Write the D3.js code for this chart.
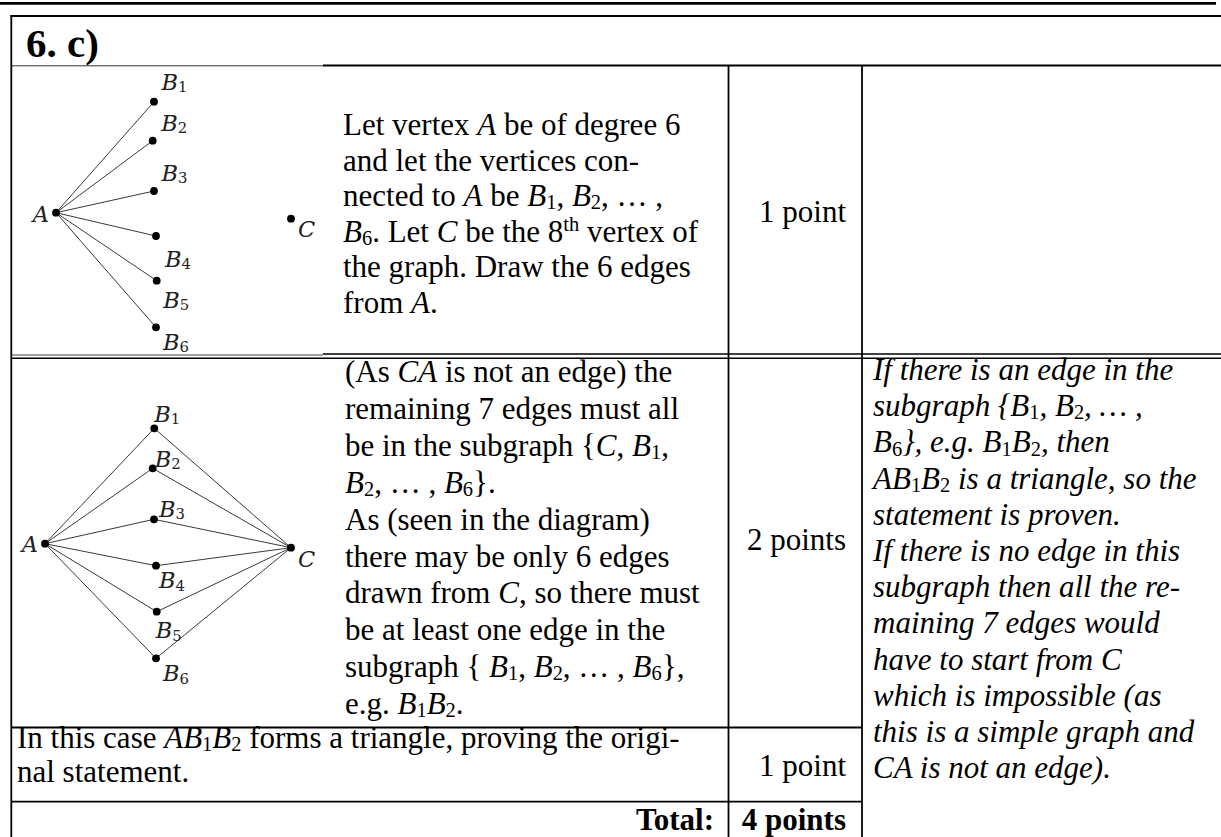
<!DOCTYPE html>
<html><head><meta charset="utf-8">
<script src="https://cdn.jsdelivr.net/npm/d3@7"></script>
<style>body{margin:0;background:#fff}</style>
</head><body>
<svg id="c" width="1221" height="837"></svg>
<script>
// ---------------- DATA ----------------
const title = "6. c)";
const row1Lines = [
  "Let vertex *A* be of degree 6",
  "and let the vertices con-",
  "nected to *A* be *B*_{1}, *B*_{2}, … ,",
  "*B*_{6}. Let *C* be the 8^{th} vertex of",
  "the graph. Draw the 6 edges",
  "from *A*."
];
const row2Lines = [
  "(As *CA* is not an edge) the",
  "remaining 7 edges must all",
  "be in the subgraph {*C*, *B*_{1},",
  "*B*_{2}, … , *B*_{6}}.",
  "As (seen in the diagram)",
  "there may be only 6 edges",
  "drawn from *C*, so there must",
  "be at least one edge in the",
  "subgraph { *B*_{1}, *B*_{2}, … , *B*_{6}},",
  "e.g. *B*_{1}*B*_{2}."
];
const row3Lines = [
  "In this case *AB*_{1}*B*_{2} forms a triangle, proving the origi-",
  "nal statement."
];
const commentLines = [
  "If there is an edge in the",
  "subgraph {B_{1}, B_{2}, … ,",
  "B_{6}}, e.g. B_{1}B_{2}, then",
  "AB_{1}B_{2} is a triangle, so the",
  "statement is proven.",
  "If there is no edge in this",
  "subgraph then all the re-",
  "maining 7 edges would",
  "have to start from C",
  "which is impossible (as",
  "this is a simple graph and",
  "CA is not an edge)."
];
const pointLabels = ["1 point", "2 points", "1 point"];
const totalLabel = "Total:";
const totalPoints = "4 points";

// Graph 1 (first diagram): vertex coordinates in diagram units, A at origin
const graph1Vertices = [
  {id: "A",  x: 0,     y: 0},
  {id: "B1", x: 9.8,   y: -11.1},
  {id: "B2", x: 9.67,  y: -7.2},
  {id: "B3", x: 9.8,   y: -2.17},
  {id: "B4", x: 10.0,  y: 2.33},
  {id: "B5", x: 10.07, y: 6.8},
  {id: "B6", x: 10.0,  y: 11.46},
  {id: "C",  x: 23.5,  y: 0.6}
];
const graph1Edges = [["A","B1"],["A","B2"],["A","B3"],["A","B4"],["A","B5"],["A","B6"]];

// Graph 2 (second diagram)
const graph2Vertices = [
  {id: "A",  x: 0,     y: 0},
  {id: "B1", x: 10.93, y: -11.54},
  {id: "B2", x: 10.77, y: -7.54},
  {id: "B3", x: 10.9,  y: -2.44},
  {id: "B4", x: 11.1,  y: 2.2},
  {id: "B5", x: 11.17, y: 6.8},
  {id: "B6", x: 11.1,  y: 11.46},
  {id: "C",  x: 24.6,  y: 0.4}
];
const graph2Edges = [["A","B1"],["A","B2"],["A","B3"],["A","B4"],["A","B5"],["A","B6"],
                     ["C","B1"],["C","B2"],["C","B3"],["C","B4"],["C","B5"],["C","B6"]];

// ---------------- LAYOUT ----------------
const svg = d3.select("#c");
const FONT = "'Liberation Serif','Times New Roman',serif";
const FS = 31;

// label offsets (px) relative to the vertex dot: [dx, dy, anchor]
const label1Pos = {A:[-7,9,"end"],B1:[7.5,-11.5,"start"],B2:[8.5,-10,"start"],B3:[7.5,-10,"start"],
  B4:[9,31,"start"],B5:[6.5,27.5,"start"],B6:[7,22.5,"start"],C:[7,18,"start"]};
const label2Pos = {A:[-7,8,"end"],B1:[0,-6.6,"start"],B2:[2,-1.6,"start"],B3:[5,-2.6,"start"],
  B4:[3,22.6,"start"],B5:[-1,26.6,"start"],B6:[7,23,"start"],C:[7,19,"start"]};

function richText(parent, str, x, y, opt = {}) {
  const fs = opt.size || FS;
  const t = parent.append("text").attr("x", x).attr("y", y)
    .attr("font-family", opt.family || FONT).attr("font-size", fs)
    .attr("fill", opt.fill || "#000")
    .attr("text-anchor", opt.anchor || "start")
    .attr("font-weight", opt.weight || "normal");
  const parts = str.split(/(\*|_\{[^}]*\}|\^\{[^}]*\})/).filter(s => s !== "");
  let italic = !!opt.italic, shift = 0;
  const subShift = fs * 0.1, supShift = fs * 0.36;
  for (const p of parts) {
    if (p === "*") { italic = !italic; continue; }
    if (p.startsWith("_{")) {
      t.append("tspan").attr("dy", subShift - shift).attr("font-size", fs * 0.66)
        .attr("font-style", "normal").text(p.slice(2, -1));
      shift = subShift; continue;
    }
    if (p.startsWith("^{")) {
      t.append("tspan").attr("dy", -supShift - shift).attr("font-size", fs * 0.66)
        .attr("font-style", "normal").text(p.slice(2, -1));
      shift = -supShift; continue;
    }
    t.append("tspan").attr("dy", -shift).attr("font-style", italic ? "italic" : "normal").text(p);
    shift = 0;
  }
  return t;
}

// ---------------- RULES / TABLE ----------------
function hline(x1, x2, y, w, c = "#000") {
  svg.append("line").attr("x1", x1).attr("x2", x2).attr("y1", y).attr("y2", y)
    .attr("stroke", c).attr("stroke-width", w);
}
function vline(x, y1, y2, w, c = "#000") {
  svg.append("line").attr("x1", x).attr("x2", x).attr("y1", y1).attr("y2", y2)
    .attr("stroke", c).attr("stroke-width", w);
}
const L = 11.3, COL2 = 728.5, COL3 = 862, R = 1221;
const Y_TOP = 16, Y_HEAD = 65.5, Y_R1a = 354, Y_R1b = 358.3, Y_R2 = 727.5, Y_R3 = 801.7;

hline(0, 1216, 3.3, 2.8);            // top rule
hline(L - 1, R, Y_TOP, 1.8);          // table top
hline(323, R, Y_HEAD, 2);             // header bottom
hline(L, 323, Y_HEAD + 0.3, 1, "#333");
vline(L, Y_TOP - 0.9, 837, 1.8);      // left border
vline(COL2, Y_HEAD, 837, 1.8);
vline(COL3, Y_HEAD, 837, 1.8);
hline(323, R, Y_R1a, 1.6);            // double line between row 1 and row 2
hline(L, 323, Y_R1a + 1, 1, "#444");
hline(L, R, Y_R1b, 1.6);
hline(L, COL3, Y_R2, 2);
hline(L, COL3, Y_R3, 1.8);

// ---------------- TEXT ----------------
richText(svg, title, 26, 57, {size: 41, weight: "bold"});

row1Lines.forEach((s, i) => richText(svg, s, 343, 135 + i * 35.6));
row2Lines.forEach((s, i) => richText(svg, s, 345, 382 + i * 36.9));
row3Lines.forEach((s, i) => richText(svg, s, 17, 748 + i * 34));
commentLines.forEach((s, i) => richText(svg, s, 873, 380 + i * 36.2, {italic: true}));

const pointY = [222, 550, 776];
pointLabels.forEach((s, i) => richText(svg, s, 846, pointY[i], {anchor: "end"}));
richText(svg, totalLabel, 714, 830, {anchor: "end", weight: "bold"});
richText(svg, totalPoints, 846, 830, {anchor: "end", weight: "bold"});

// ---------------- DIAGRAMS ----------------
function drawGraph(vertices, edges, origin, labelPos) {
  const x = d3.scaleLinear().domain([0, 1]).range([origin[0], origin[0] + 10]);
  const y = d3.scaleLinear().domain([0, 1]).range([origin[1], origin[1] + 10]);
  const byId = new Map(vertices.map(v => [v.id, v]));
  const g = svg.append("g");
  g.selectAll("line.e").data(edges).join("line").attr("class", "e")
    .attr("x1", d => x(byId.get(d[0]).x)).attr("y1", d => y(byId.get(d[0]).y))
    .attr("x2", d => x(byId.get(d[1]).x)).attr("y2", d => y(byId.get(d[1]).y))
    .attr("stroke", "#3a3a3a").attr("stroke-width", 1);
  g.selectAll("circle").data(vertices).join("circle")
    .attr("cx", d => x(d.x)).attr("cy", d => y(d.y)).attr("r", 3.9).attr("fill", "#000");
  vertices.forEach(v => {
    const p = labelPos[v.id];
    const str = v.id.length > 1 ? "*" + v.id[0] + "*_{" + v.id.slice(1) + "}" : "*" + v.id + "*";
    richText(g, str, x(v.x) + p[0], y(v.y) + p[1],
      {size: 22.5, anchor: p[2], fill: "#222", family: "'DejaVu Serif','Liberation Serif',serif"});
  });
}
drawGraph(graph1Vertices, graph1Edges, [56, 212.7], label1Pos);
drawGraph(graph2Vertices, graph2Edges, [45, 543.7], label2Pos);
</script>
</body></html>
